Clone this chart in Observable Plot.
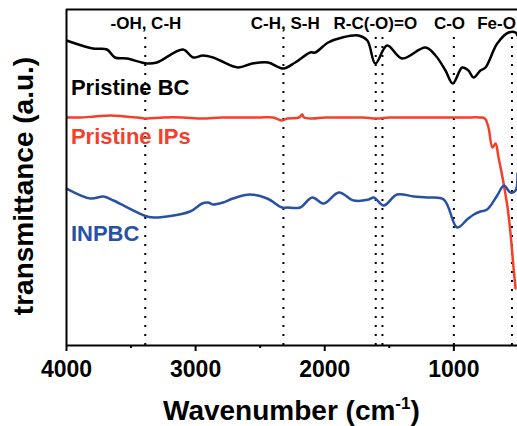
<!DOCTYPE html>
<html>
<head>
<meta charset="utf-8">
<script src="https://cdn.jsdelivr.net/npm/d3@7"></script>
<script src="https://cdn.jsdelivr.net/npm/@observablehq/plot@0.6"></script>
<style>
  body { margin: 0; background: #fff; }
  #chart svg { display: block; }
</style>
</head>
<body>
<div id="chart"></div>
<script>
// Spectra: [wavenumber (cm-1), transmittance (a.u.)]
const pristineBC = [
  [4000,305],[3796,297],[3687,296],[3625,288],[3532,287],[3377,282],[3300,283],
  [3098,296],[3020,288],[2943,290],[2865,288],[2811,285],[2671,278],[2562,282],
  [2438,283],[2322,277],[2229,283],[2112,293],[2074,293],[1973,303],[1864,308],
  [1740,310],[1670,305],[1608,282],[1517,300],[1401,287],[1220,298],[1142,290],
  [1065,275],[1008,262],[935,278],[887,275],[848,268],[794,275],[755,278],
  [664,302],[576,313],[522,313],[507,310]
];
const pristineIPs = [
  [4000,228],[3900,228],[3780,229],[3660,230],[3550,229],[3450,228],[3380,227],
  [3250,228],[3100,228],[2950,227],[2800,228],[2650,228],[2500,228],[2400,228],
  [2330,225],[2290,227],[2200,228],[2175,231],[2160,228],[2100,227],[2000,228],
  [1900,228],[1800,228],[1700,228],[1600,227],[1500,228],[1400,228],[1300,228],
  [1200,228],[1100,228],[1000,228],[900,228],[800,228],[760,227],[732,218],
  [701,198],[677,202],[654,188],[623,168],[584,138],[561,112],[538,78],[522,57]
];
const inpbc = [
  [4000,157],[3814,147],[3713,149],[3636,145],[3377,129],[3315,128],[3043,134],
  [2950,142],[2904,143],[2865,141],[2788,143],[2710,147],[2578,151],[2446,147],
  [2330,138],[2291,138],[2190,138],[2097,148],[2007,142],[1891,153],[1775,145],
  [1659,146],[1620,148],[1543,140],[1440,151],[1310,149],[1207,148],[1078,146],
  [974,118],[897,126],[845,131],[794,134],[742,136],[664,150],[612,160],
  [561,153],[522,155],[507,172]
];

const seriesNames = ["Pristine BC", "Pristine IPs", "INPBC"];
const seriesColors = ["#000000", "#f2402b", "#2851a6"];
const seriesLabelX = [3966, 3966, 3966];
const seriesLabelY = [251, 202, 105];

const peakPositions = [3390, 2320, 1605, 1553, 1000, 550];
const bandLabels = ["-OH, C-H", "C-H, S-H", "R-C(-O)=O", "C-O", "Fe-O"];
const bandLabelX = [3385, 2306, 1608, 1034, 669];

const majorTicks = [4000, 3000, 2000, 1000];
const minorTicks = [3500, 2500, 1500];

const font = "'Liberation Sans', Arial, Helvetica, sans-serif";

const seriesData = [pristineBC, pristineIPs, inpbc];

const svg = Plot.plot({
  width: 517,
  height: 426,
  marginLeft: 66,
  marginRight: 0,
  marginTop: 9,
  marginBottom: 81,
  style: { fontFamily: font, color: "#000", background: "#fff", overflow: "visible" },
  x: { domain: [4000, 507], axis: null },
  y: { domain: [0, 336], axis: null },
  marks: [
    Plot.ruleX(peakPositions, { y1: 0, y2: 314, stroke: "#000", strokeWidth: 2, strokeDasharray: "2,7" }),
    ...seriesData.map((d, i) => Plot.line(d, {
      x: p => p[0], y: p => p[1], stroke: seriesColors[i], strokeWidth: 2.5,
      curve: "catmull-rom", clip: true
    })),
    Plot.ruleY([0, 336], { stroke: "#000", strokeWidth: 2 }),
    Plot.ruleX([4000], { y1: 0, y2: 336, stroke: "#000", strokeWidth: 2 }),
    Plot.axisX(majorTicks, {
      tickSize: 6, tickPadding: 9, fontSize: 23, fontWeight: "bold",
      strokeWidth: 2, label: null, tickFormat: d => String(d)
    }),
    Plot.axisX(minorTicks, { tickSize: 3, text: null, strokeWidth: 2, label: null }),
    Plot.text(bandLabels, {
      x: (d, i) => bandLabelX[i], y: 317, text: d => d,
      textAnchor: "middle", lineAnchor: "bottom",
      fontSize: 17, fontWeight: "bold", fill: "#000"
    }),
    Plot.text(seriesNames, {
      x: (d, i) => seriesLabelX[i], y: (d, i) => seriesLabelY[i], text: d => d,
      textAnchor: "start", lineAnchor: "bottom",
      fontSize: 22, fontWeight: "bold", fill: (d, i) => seriesColors[i]
    })
  ]
});

const s = d3.select(svg);
// x-axis title with superscript
const xt = s.append("text")
  .attr("x", 163).attr("y", 420)
  .attr("text-anchor", "start")
  .attr("font-family", font).attr("font-size", 28).attr("font-weight", "bold")
  .attr("fill", "#000");
xt.append("tspan").text("Wavenumber (cm");
xt.append("tspan").attr("dy", -11).attr("font-size", 17).text("-1");
xt.append("tspan").attr("dy", 11).text(")");

// y-axis title
s.append("text")
  .attr("transform", "translate(33,186) rotate(-90)")
  .attr("text-anchor", "middle")
  .attr("font-family", font).attr("font-size", 28).attr("font-weight", "bold")
  .attr("fill", "#000")
  .text("transmittance (a.u.)");

document.getElementById("chart").appendChild(svg);
</script>
</body>
</html>
